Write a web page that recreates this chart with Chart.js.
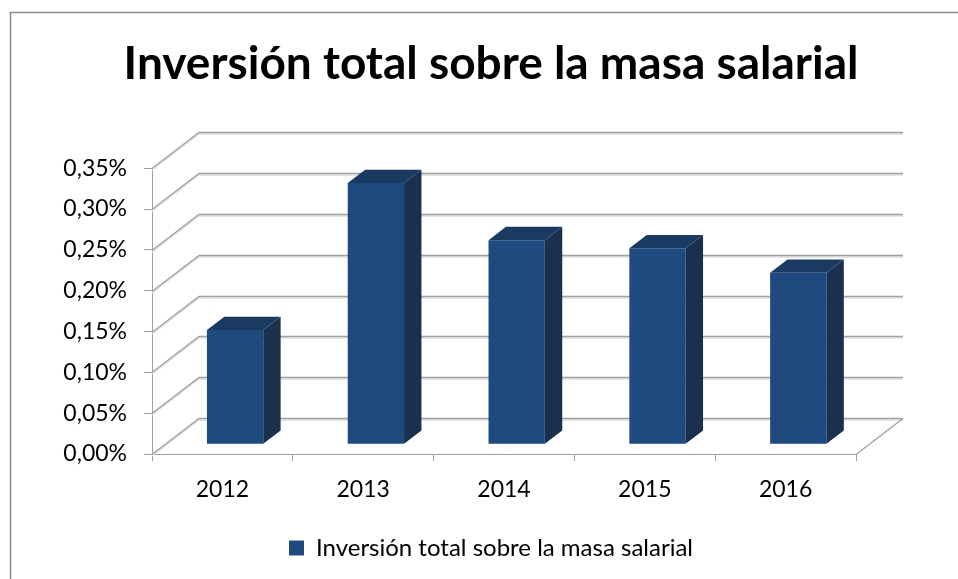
<!DOCTYPE html>
<html>
<head>
<meta charset="utf-8">
<script src="https://cdn.jsdelivr.net/npm/chart.js@4/dist/chart.umd.min.js"></script>
<style>
body{margin:0;background:#fff;}
canvas{display:block;}
</style>
</head>
<body>
<canvas id="grafico" width="958" height="579"></canvas>
<script>
const titulo="Inversión total sobre la masa salarial";
const anios=["2012","2013","2014","2015","2016"];
const inversion=[0.14,0.32,0.25,0.24,0.21];
const serie="Inversión total sobre la masa salarial";

// profundidad 3D (pared del fondo) y caja de las barras
const fondo={dx:47,dy:-36};
const barra={desde:0.27,prof:0.37};
const colores={frente:"#1f4a80",lado:"#1b2f4f",tapa:"#1a3a62",rejilla:"#a0a0a0",sombra:"#e0e0e0"};

// ajustar tamaño del título al ancho del original
let medir=document.createElement("canvas").getContext("2d");
medir.font="bold 40px Lato";
let tamTitulo=Math.round(40*727/medir.measureText(titulo).width);

function fmt(v){
return v.toFixed(2).replace(".",",")+"%";
}

const efecto3d={
id:"efecto3d",
beforeDraw(chart){
let ctx=chart.ctx;
ctx.save();
ctx.fillStyle="#fff";
ctx.fillRect(0,0,chart.width,chart.height);
ctx.strokeStyle="#8c8c8c";
ctx.lineWidth=1.5;
ctx.beginPath();
ctx.moveTo(10.5,chart.height+5);
ctx.lineTo(10.5,12.5);
ctx.lineTo(chart.width+5,12.5);
ctx.stroke();
ctx.restore();
},
beforeDatasetsDraw(chart){
let ctx=chart.ctx;
let y=chart.scales.y;
let a=chart.chartArea;
ctx.save();
y.ticks.forEach(t=>{
let py=Math.round(y.getPixelForValue(t.value))+0.5;
[[colores.sombra,1.5],[colores.rejilla,0]].forEach(([c,o])=>{
ctx.strokeStyle=c;
ctx.lineWidth=1.3;
ctx.beginPath();
ctx.moveTo(a.left,py+o);
ctx.lineTo(a.left+fondo.dx,py+fondo.dy+o);
ctx.lineTo(a.right+fondo.dx,py+fondo.dy+o);
ctx.stroke();
});
});
// borde derecho del piso
let pb=Math.round(a.bottom)+0.5;
ctx.strokeStyle=colores.rejilla;
ctx.beginPath();
ctx.moveTo(a.right,pb);
ctx.lineTo(a.right+fondo.dx,pb+fondo.dy);
ctx.stroke();
ctx.restore();
// las barras se dibujan desplazadas hacia el fondo
ctx.save();
ctx.translate(fondo.dx*barra.desde,fondo.dy*barra.desde);
},
afterDatasetsDraw(chart){
let ctx=chart.ctx;
ctx.restore();
let ox=fondo.dx*barra.desde, oy=fondo.dy*barra.desde;
let px=fondo.dx*barra.prof, py=fondo.dy*barra.prof;
ctx.save();
chart.getDatasetMeta(0).data.forEach(b=>{
let l=b.x-b.width/2+ox, r=b.x+b.width/2+ox, t=b.y+oy, base=b.base+oy;
ctx.fillStyle=colores.lado;
ctx.beginPath();
ctx.moveTo(r,t);
ctx.lineTo(r+px,t+py);
ctx.lineTo(r+px,base+py);
ctx.lineTo(r,base);
ctx.closePath();
ctx.fill();
ctx.fillStyle=colores.tapa;
ctx.beginPath();
ctx.moveTo(l,t);
ctx.lineTo(l+px,t+py);
ctx.lineTo(r+px,t+py);
ctx.lineTo(r,t);
ctx.closePath();
ctx.fill();
});
ctx.restore();
}
};

new Chart(document.getElementById("grafico"),{
type:"bar",
data:{
labels:anios,
datasets:[{
label:serie,
data:inversion,
backgroundColor:colores.frente,
borderWidth:0,
barPercentage:0.4,
categoryPercentage:1,
clip:false
}]
},
options:{
responsive:false,
animation:false,
layout:{padding:{left:24,right:0,top:0,bottom:9}},
plugins:{
title:{
display:true,
text:titulo,
color:"#000",
font:{family:"Lato",size:tamTitulo,weight:"bold"},
padding:{top:37,bottom:76}
},
legend:{
position:"bottom",
labels:{
color:"#000",
font:{family:"Lato",size:24},
boxWidth:15,
boxHeight:15,
padding:8
}
},
tooltip:{enabled:false}
},
scales:{
x:{
grid:{drawOnChartArea:false,color:colores.rejilla,tickLength:7,offset:true},
border:{display:true,color:colores.rejilla},
ticks:{color:"#000",font:{family:"Lato",size:23},padding:15},
afterFit(s){s.height=74;}
},
y:{
min:0,
max:0.35,
grid:{drawOnChartArea:false,color:colores.rejilla,tickLength:8},
border:{display:true,color:colores.rejilla},
ticks:{stepSize:0.05,color:"#000",font:{family:"Lato",size:23},padding:17,callback:v=>fmt(v)},
afterFit(s){s.width=128;}
},
y2:{
position:"right",
display:true,
grid:{display:false},
border:{display:false},
ticks:{display:false},
afterFit(s){s.width=102;}
}
}
},
plugins:[efecto3d]
});
</script>
</body>
</html>
